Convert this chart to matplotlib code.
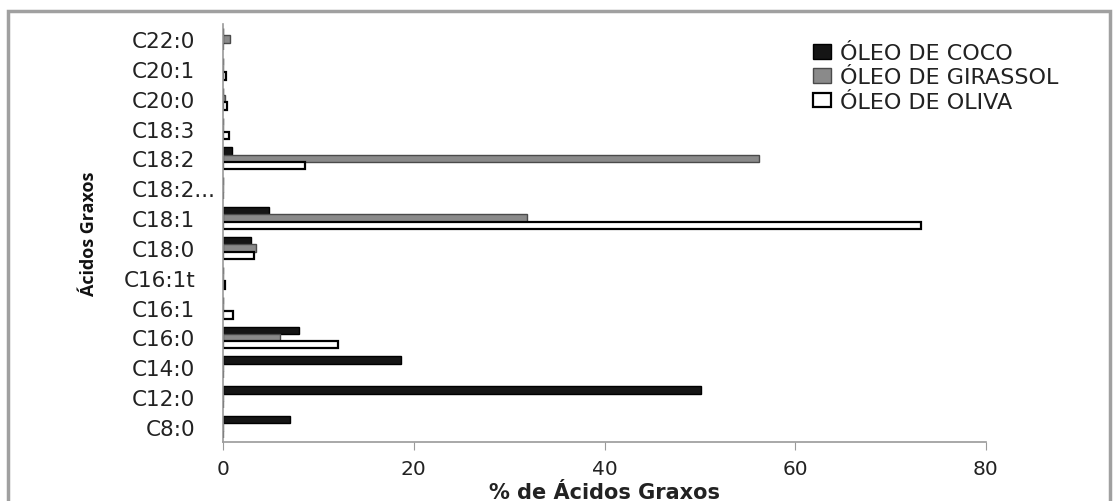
import matplotlib
matplotlib.use("Agg")
import matplotlib.pyplot as plt
import numpy as np
from matplotlib.patches import Rectangle
from matplotlib.transforms import ScaledTranslation

categories = ["C8:0", "C12:0", "C14:0", "C16:0", "C16:1", "C16:1t", "C18:0",
              "C18:1", "C18:2...", "C18:2", "C18:3", "C20:0", "C20:1", "C22:0"]
coco = [7.0, 50.1, 18.7, 8.0, 0.0, 0.0, 2.9, 4.8, 0.0, 0.9, 0.0, 0.0, 0.0, 0.0]
girassol = [0.0, 0.0, 0.0, 6.0, 0.0, 0.0, 3.5, 31.9, 0.0, 56.2, 0.0, 0.2, 0.0, 0.7]
oliva = [0.0, 0.0, 0.0, 12.1, 1.0, 0.2, 3.2, 73.2, 0.0, 8.6, 0.6, 0.4, 0.3, 0.0]
series_names = ["ÓLEO DE COCO", "ÓLEO DE GIRASSOL", "ÓLEO DE OLIVA"]
xticks = [0, 20, 40, 60, 80]

fig = plt.figure(figsize=(11.2, 5.02), dpi=100)
ax = fig.add_axes([223/1120, 1-443/502, (986-223)/1120, (443-25)/502])

y = np.arange(len(categories))
h = 0.245
ax.barh(y + h, coco, height=h, color="#151515", edgecolor="#000000", lw=1.0,
        label=series_names[0])
ax.barh(y, girassol, height=h, color="#8a8a8a", edgecolor="#4a4a4a", lw=1.0,
        label=series_names[1])
ax.barh(y - h, oliva, height=h, color="white", edgecolor="#000000", lw=1.6,
        label=series_names[2])

ax.set_xlim(0, 80)
ax.set_ylim(-0.5, len(categories) - 0.5)
ax.set_xticks(xticks)
ax.set_yticks(y)
ax.set_yticklabels(categories)
ax.tick_params(axis="x", length=6, color="#9a9a9a", labelsize=14.5, pad=6,
               labelcolor="#222222")
ax.tick_params(axis="y", length=0, labelsize=15.5, pad=20, labelcolor="#222222")
for s in ["top", "right"]:
    ax.spines[s].set_visible(False)
for s in ["left", "bottom"]:
    ax.spines[s].set_color("#9a9a9a")
    ax.spines[s].set_linewidth(1.2)

# the long category label overflows to the right, as in the reference
lab = ax.get_yticklabels()[categories.index("C18:2...")]
lab.set_transform(lab.get_transform() + ScaledTranslation(21/100, 0, fig.dpi_scale_trans))

ax.set_xlabel("% de Ácidos Graxos", fontsize=15, fontweight="bold",
              family=["DejaVu Sans"], color="#222222")
ax.xaxis.set_label_coords(0.5, -(493-443)/418)
ax.xaxis.label.set_va("center")
ax.set_ylabel("Ácidos Graxos", fontsize=13, family=["Open Sans", "DejaVu Sans"],
              fontweight="bold", color="#111111")
ax.yaxis.set_label_coords(-(223-98)/763, 0.5)

leg = ax.legend(loc="upper left", bbox_to_anchor=((804-223)/763, 1 - (35-25)/418),
                frameon=False, fontsize=16, handlelength=0.8, handleheight=0.65,
                handletextpad=0.4, labelspacing=0.2, borderaxespad=0)
for t in leg.get_texts():
    t.set_color("#222222")

fig.patches.append(Rectangle((8/1120, -0.05), (1110-8)/1120, 1.05 - 12/502,
                             transform=fig.transFigure, fill=False,
                             edgecolor="#a0a0a0", lw=2.5))

fig.savefig("out.png", dpi=100)
